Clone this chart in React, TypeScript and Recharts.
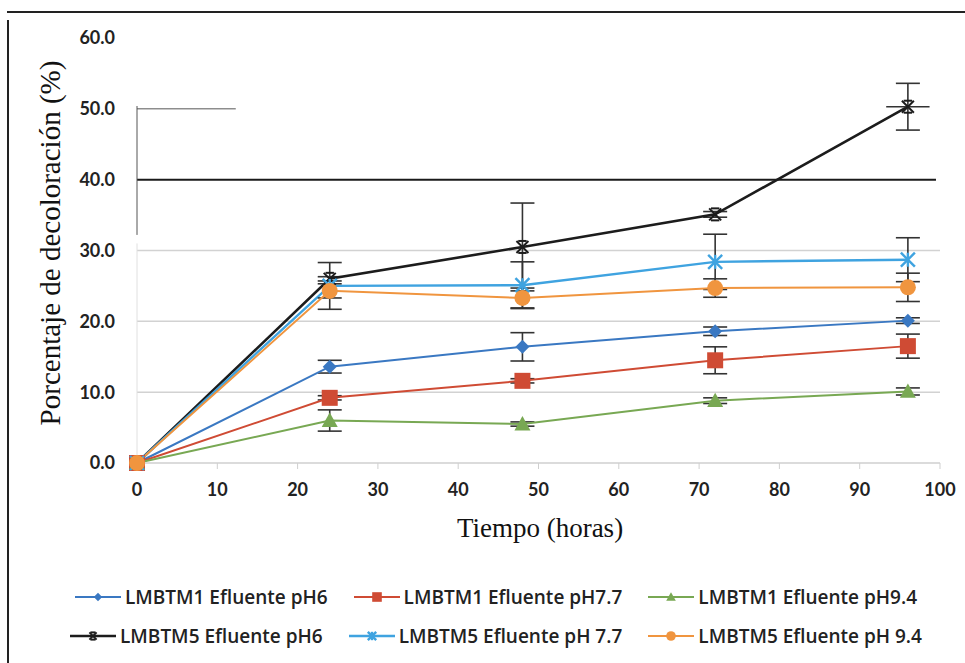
import React from "react";
import {
  LineChart,
  Line,
  XAxis,
  YAxis,
  ErrorBar,
  ReferenceLine,
} from "recharts";

const hours = [0, 24, 48, 72, 96];

const m1ph6 = [0, 13.6, 16.4, 18.6, 20.1];
const m1ph6Err = [0, 0.9, 2.0, 0.6, 0.4];
const m1ph77 = [0, 9.2, 11.6, 14.5, 16.5];
const m1ph77Err = [0, 0.3, 0.3, 1.9, 1.7];
const m1ph94 = [0, 6.0, 5.5, 8.8, 10.1];
const m1ph94Err = [0, 1.5, 0.3, 0.4, 0.5];
const m5ph6 = [0, 26.0, 30.5, 35.1, 50.3];
const m5ph6Err = [0, 0.3, 6.2, 0.4, 3.3];
const m5ph6XErr = [0, 0, 0, 0, 2.7];
const m5ph77 = [0, 25.0, 25.1, 28.4, 28.7];
const m5ph77Err = [0, 3.3, 3.3, 3.9, 3.1];
const m5ph94 = [0, 24.3, 23.3, 24.7, 24.8];
const m5ph94Err = [0, 1.0, 1.4, 1.3, 2.0];

const xTicks = [0, 10, 20, 30, 40, 50, 60, 70, 80, 90, 100];
const yTicks = [0, 10, 20, 30, 40, 50, 60];
const gridValues = [10, 20, 30];

const data = hours.map((h, i) => ({
  h,
  a: m1ph6[i], aE: m1ph6Err[i],
  b: m1ph77[i], bE: m1ph77Err[i],
  c: m1ph94[i], cE: m1ph94Err[i],
  d: m5ph6[i], dE: m5ph6Err[i],
  e: m5ph77[i], eE: m5ph77Err[i],
  f: m5ph94[i], fE: m5ph94Err[i],
}));

type Shape = "diamond" | "square" | "triangle" | "cross" | "star" | "circle";

const series: { key: string; name: string; color: string; shape: Shape; width: number }[] = [
  { key: "a", name: "LMBTM1 Efluente pH6", color: "#3a78c2", shape: "diamond", width: 2 },
  { key: "b", name: "LMBTM1 Efluente pH7.7", color: "#cf4b34", shape: "square", width: 2 },
  { key: "c", name: "LMBTM1 Efluente pH9.4", color: "#78a853", shape: "triangle", width: 2 },
  { key: "d", name: "LMBTM5 Efluente pH6", color: "#1c1c1c", shape: "cross", width: 2.6 },
  { key: "e", name: "LMBTM5 Efluente pH 7.7", color: "#3fa3e0", shape: "star", width: 2.4 },
  { key: "f", name: "LMBTM5 Efluente pH 9.4", color: "#f0953f", shape: "circle", width: 2 },
];

function Marker({ cx, cy, shape, color, s = 1 }: { cx: number; cy: number; shape: Shape; color: string; s?: number }) {
  switch (shape) {
    case "diamond": {
      const r = 7 * s;
      return <polygon points={`${cx},${cy - r} ${cx + r},${cy} ${cx},${cy + r} ${cx - r},${cy}`} fill={color} />;
    }
    case "square": {
      const r = 8 * s;
      return <rect x={cx - r} y={cy - r} width={2 * r} height={2 * r} fill={color} />;
    }
    case "triangle": {
      const r = 8 * s;
      return <polygon points={`${cx},${cy - r} ${cx + r},${cy + r * 0.8} ${cx - r},${cy + r * 0.8}`} fill={color} />;
    }
    case "circle":
      return <circle cx={cx} cy={cy} r={8 * s} fill={color} />;
    case "cross": {
      const r = 6 * s;
      return (
        <g stroke={color} strokeWidth={2}>
          <line x1={cx - r} y1={cy - r} x2={cx + r} y2={cy + r} />
          <line x1={cx - r} y1={cy + r} x2={cx + r} y2={cy - r} />
          <line x1={cx - r * 0.7} y1={cy - r} x2={cx + r * 0.7} y2={cy - r} />
          <line x1={cx - r * 0.7} y1={cy + r} x2={cx + r * 0.7} y2={cy + r} />
        </g>
      );
    }
    case "star": {
      const r = 7 * s;
      return (
        <g stroke={color} strokeWidth={2.4}>
          <line x1={cx - r} y1={cy - r} x2={cx + r} y2={cy + r} />
          <line x1={cx - r} y1={cy + r} x2={cx + r} y2={cy - r} />
          <line x1={cx} y1={cy - r} x2={cx} y2={cy + r} />
        </g>
      );
    }
  }
  return null;
}

const tickStyle = { fontFamily: "Lato", fontWeight: 700, fontSize: 18, fill: "#222" };

// horizontal error bar on the last LMBTM5 pH6 point
const lastIdx = hours.length - 1;
const xErrSeg = [
  { x: hours[lastIdx] - m5ph6XErr[lastIdx], y: m5ph6[lastIdx] },
  { x: hours[lastIdx] + m5ph6XErr[lastIdx], y: m5ph6[lastIdx] },
];

export default function App() {
  return (
    <div style={{ position: "absolute", left: 0, top: 0, width: 965, height: 663, background: "#fff", overflow: "hidden" }}>
      <div style={{ position: "absolute", left: 7, top: 11, right: 0, height: 0, borderTop: "2.5px solid #222" }} />
      <div style={{ position: "absolute", left: 7, top: 20, bottom: 0, width: 0, borderLeft: "2.5px solid #222" }} />
      <LineChart width={965} height={663} data={data} margin={{ top: 38, right: 25, left: 57, bottom: 0 }}>
        {gridValues.map((v) => (
          <ReferenceLine key={v} y={v} stroke="#d2d2d2" strokeWidth={1.5} />
        ))}
        <ReferenceLine segment={[{ x: 0, y: 0 }, { x: 0, y: 31 }]} stroke="#e0e0e0" strokeWidth={1} />
        <ReferenceLine segment={[{ x: 0, y: 40 }, { x: 99.5, y: 40 }]} stroke="#1a1a1a" strokeWidth={2} />
        <ReferenceLine segment={[{ x: 0, y: 50 }, { x: 12.3, y: 50 }]} stroke="#555" strokeWidth={1} />
        <ReferenceLine segment={[{ x: 0, y: 32.2 }, { x: 0, y: 50.4 }]} stroke="#555" strokeWidth={1} />
        <XAxis
          dataKey="h"
          type="number"
          domain={[0, 100]}
          ticks={xTicks}
          height={200}
          tickSize={6}
          tickMargin={14}
          axisLine={{ stroke: "#cfcfcf", strokeWidth: 1.5 }}
          tickLine={{ stroke: "#cfcfcf" }}
          tick={tickStyle}
        />
        <YAxis
          type="number"
          domain={[0, 60]}
          ticks={yTicks}
          width={80}
          tickLine={false}
          tickSize={0}
          tickMargin={22}
          axisLine={false}
          tickFormatter={(v: number) => v.toFixed(1)}
          tick={tickStyle}
        />
        {series.map((s) => (
          <Line
            key={s.key}
            dataKey={s.key}
            name={s.name}
            stroke={s.color}
            strokeWidth={s.width}
            isAnimationActive={false}
            dot={(p: any) => <Marker key={`${s.key}-${p.index}`} cx={p.cx} cy={p.cy} shape={s.shape} color={s.color} />}
            activeDot={false}
          >
            <ErrorBar dataKey={`${s.key}E`} width={12} stroke="#333" strokeWidth={1.6} />
          </Line>
        ))}
        <ReferenceLine segment={xErrSeg} stroke="#333" strokeWidth={1.6} />
      </LineChart>
      <div
        style={{
          position: "absolute",
          left: 50,
          top: 243,
          transform: "translate(-50%, -50%) rotate(-90deg)",
          whiteSpace: "nowrap",
          fontFamily: "Liberation Serif",
          fontSize: 29,
          color: "#111",
        }}
      >
        Porcentaje de decoloración (%)
      </div>
      <div
        style={{
          position: "absolute",
          left: 540,
          top: 528,
          transform: "translate(-50%, -50%)",
          whiteSpace: "nowrap",
          fontFamily: "Liberation Serif",
          fontSize: 27,
          color: "#111",
        }}
      >
        Tiempo (horas)
      </div>
      {[series.slice(0, 3), series.slice(3)].map((row, ri) => (
        <div
          key={ri}
          style={{
            position: "absolute",
            left: 0,
            width: 990,
            top: ri === 0 ? 584 : 623,
            display: "flex",
            justifyContent: "center",
            gap: 24,
            fontFamily: "Open Sans",
            fontWeight: 600,
            fontSize: 19,
            color: "#222",
          }}
        >
          {row.map((s) => (
            <div key={s.key} style={{ display: "flex", alignItems: "center", whiteSpace: "nowrap" }}>
              <svg width={50} height={26}>
                <line x1={2} y1={13} x2={48} y2={13} stroke={s.color} strokeWidth={s.width} />
                <Marker cx={25} cy={13} shape={s.shape} color={s.color} s={0.6} />
              </svg>
              <span style={{ marginLeft: 2 }}>{s.name}</span>
            </div>
          ))}
        </div>
      ))}
    </div>
  );
}
